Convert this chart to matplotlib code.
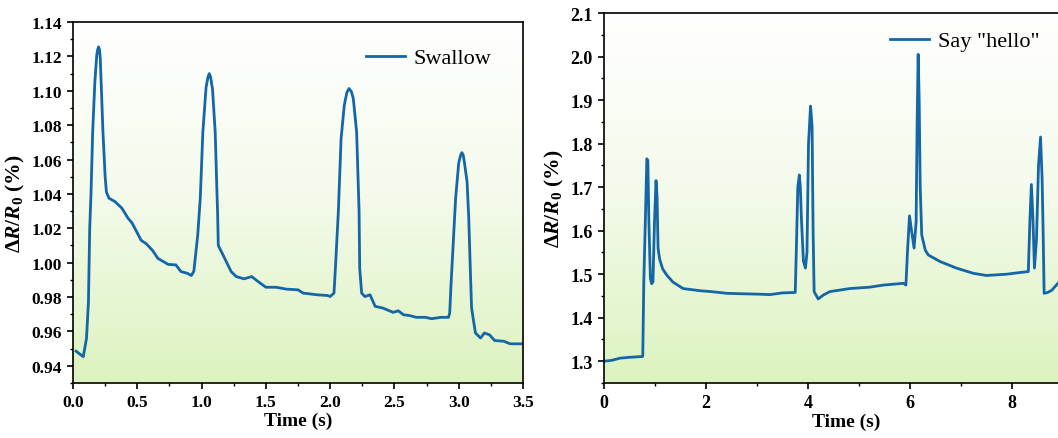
import numpy as np
import matplotlib
matplotlib.use("Agg")
import matplotlib.pyplot as plt
from matplotlib.colors import LinearSegmentedColormap
from matplotlib.ticker import MultipleLocator, FormatStrFormatter

plt.rcParams['font.family'] = ['Liberation Serif', 'DejaVu Serif']
plt.rcParams['mathtext.fontset'] = 'custom'
plt.rcParams['mathtext.rm'] = 'Liberation Serif:bold'
plt.rcParams['mathtext.it'] = 'Liberation Serif:italic:bold'
plt.rcParams['mathtext.bf'] = 'Liberation Serif:bold'

# swallow signal (time in s, dR/R0 in %)
swallow_t = [0.024, 0.05, 0.08, 0.105, 0.12, 0.13, 0.14, 0.153, 0.17, 0.185, 0.192, 0.199, 0.206,
             0.212, 0.233, 0.25, 0.26, 0.28, 0.327, 0.38, 0.427, 0.46, 0.53, 0.57, 0.62, 0.66,
             0.74, 0.80, 0.84, 0.89, 0.92, 0.94, 0.97, 0.99, 1.01, 1.035, 1.05, 1.06, 1.07, 1.085,
             1.106, 1.118, 1.125, 1.13, 1.17, 1.23, 1.27, 1.33, 1.39, 1.44, 1.50, 1.58,
             1.66, 1.75, 1.79, 1.90, 1.98, 2.00, 2.03, 2.045, 2.064, 2.085, 2.11, 2.13, 2.147,
             2.165, 2.18, 2.206, 2.225, 2.23, 2.245, 2.27, 2.31, 2.35, 2.41, 2.49, 2.53, 2.57,
             2.62, 2.67, 2.74, 2.79, 2.86, 2.92, 2.93, 2.94, 2.976, 3.0, 3.015, 3.025, 3.035, 3.045,
             3.065, 3.078, 3.09, 3.10, 3.13, 3.17, 3.20, 3.24, 3.28, 3.35, 3.40, 3.5]
swallow_v = [0.9485, 0.947, 0.9453, 0.956, 0.977, 1.02, 1.04, 1.076, 1.105, 1.121, 1.124, 1.1255, 1.124,
             1.119, 1.076, 1.05, 1.041, 1.0375, 1.0355, 1.0317, 1.026, 1.023, 1.013, 1.011, 1.007, 1.0025,
             0.999, 0.9987, 0.9948, 0.9938, 0.9925, 0.995, 1.016, 1.0375, 1.076, 1.102, 1.108, 1.11, 1.108, 1.101,
             1.076, 1.045, 1.028, 1.010, 1.004, 0.9948, 0.9919, 0.9906, 0.9919, 0.989, 0.9857, 0.9857,
             0.9846, 0.9842, 0.9823, 0.9813, 0.9809, 0.9803, 0.9823, 1.0025, 1.03, 1.072, 1.0916, 1.099, 1.1013,
             1.0995, 1.0955, 1.076, 1.03, 0.9967, 0.9823, 0.9803, 0.9813, 0.9746, 0.9736, 0.9711, 0.972, 0.9697,
             0.9692, 0.9682, 0.9682, 0.9674, 0.9682, 0.9682, 0.9707, 0.987, 1.0375, 1.058, 1.0625, 1.064, 1.0625, 1.058,
             1.047, 1.026, 0.9967, 0.9736, 0.9591, 0.9562, 0.9591, 0.958, 0.9547, 0.9543, 0.9528, 0.9528]

# say "hello" signal
hello_t = [0.00, 0.15, 0.31, 0.50, 0.76, 0.78, 0.81, 0.84, 0.86, 0.88, 0.91, 0.935, 0.96, 0.99,
           1.02, 1.04, 1.06, 1.09, 1.15, 1.23, 1.35, 1.55, 1.88, 2.10, 2.41, 2.70, 3.06, 3.25,
           3.50, 3.75, 3.77, 3.80, 3.83, 3.85, 3.87, 3.91, 3.95, 3.98, 4.01, 4.05, 4.08, 4.10,
           4.12, 4.20, 4.30, 4.43, 4.82, 5.20, 5.48, 5.87, 5.92, 5.95, 5.99, 6.03, 6.08, 6.12,
           6.14, 6.16, 6.18, 6.20, 6.23, 6.30, 6.36, 6.59, 6.91, 7.24, 7.50, 7.90, 8.10, 8.32,
           8.35, 8.38, 8.41, 8.44, 8.48, 8.52, 8.56, 8.59, 8.61, 8.63, 8.70, 8.78, 8.90, 9.00]
hello_v = [1.300, 1.302, 1.307, 1.309, 1.311, 1.48, 1.62, 1.765, 1.76, 1.62, 1.49, 1.478, 1.482, 1.62,
           1.715, 1.68, 1.56, 1.535, 1.512, 1.498, 1.482, 1.467, 1.462, 1.460, 1.456, 1.455, 1.454, 1.453,
           1.457, 1.458, 1.55, 1.70, 1.728, 1.70, 1.63, 1.53, 1.514, 1.55, 1.80, 1.886, 1.84, 1.60,
           1.46, 1.443, 1.452, 1.460, 1.467, 1.470, 1.475, 1.479, 1.475, 1.55, 1.634, 1.60, 1.56, 1.62,
           1.85, 2.005, 1.90, 1.70, 1.59, 1.555, 1.544, 1.529, 1.514, 1.502, 1.497, 1.500, 1.503, 1.506,
           1.62, 1.706, 1.63, 1.514, 1.58, 1.75, 1.815, 1.72, 1.60, 1.456, 1.458, 1.463, 1.479, 1.49]

line_color = '#1466a6'
bg = LinearSegmentedColormap.from_list('bg', ['#ffffff', '#f3faea', '#dcf3bf'])

W, H = 1058, 439
fig = plt.figure(figsize=(W / 100, H / 100), dpi=100)

ax1 = fig.add_axes([73 / W, 1 - 384 / H, 450 / W, 361 / H])
ax2 = fig.add_axes([604 / W, 1 - 384 / H, 9.5 * 51 / W, 370 / H])


def style(ax, xlim, ylim, xmaj, xmin, ymaj, ymin, tsize):
    # white at top fading to pale green at the bottom
    grad = np.linspace(0, 1, 256).reshape(-1, 1)
    ax.imshow(grad, cmap=bg, aspect='auto', origin='upper',
              extent=[xlim[0], xlim[1], ylim[0], ylim[1]], zorder=0)
    ax.set_xlim(xlim)
    ax.set_ylim(ylim)
    ax.xaxis.set_major_locator(MultipleLocator(xmaj))
    ax.xaxis.set_minor_locator(MultipleLocator(xmin))
    ax.yaxis.set_major_locator(MultipleLocator(ymaj))
    ax.yaxis.set_minor_locator(MultipleLocator(ymin))
    ax.tick_params(which='major', direction='out', length=4.5, width=1.2, labelsize=tsize)
    ax.tick_params(which='minor', direction='out', length=2.5, width=1.0)
    for s in ax.spines.values():
        s.set_linewidth(1.2)
    ax.set_xlabel('Time (s)', fontsize=14, fontweight='bold', labelpad=1)
    ax.set_ylabel(r'$\Delta R/R_0$ (%)', fontsize=15.5, fontweight='bold', labelpad=3)


style(ax1, (0, 3.5), (0.93, 1.14), 0.5, 0.25, 0.02, 0.01, 12.5)
ax1.xaxis.set_major_formatter(FormatStrFormatter('%.1f'))
ax1.yaxis.set_major_formatter(FormatStrFormatter('%.2f'))
ax1.plot(swallow_t, swallow_v, color=line_color, lw=2.0, label='Swallow', zorder=2)
ax1.legend(loc='center left', bbox_to_anchor=(366 / W, 1 - 59 / H), bbox_transform=fig.transFigure,
           frameon=False, fontsize=16, handlelength=1.75, handletextpad=0.4,
           borderpad=0, borderaxespad=0)

style(ax2, (0, 9.5), (1.25, 2.1), 2, 1, 0.1, 0.05, 13)
ax2.yaxis.set_major_formatter(FormatStrFormatter('%.1f'))
ax2.plot(hello_t, hello_v, color=line_color, lw=2.0, label='Say "hello"', zorder=2)
ax2.legend(loc='center left', bbox_to_anchor=(890 / W, 1 - 42 / H), bbox_transform=fig.transFigure,
           frameon=False, fontsize=16, handlelength=1.75, handletextpad=0.4,
           borderpad=0, borderaxespad=0)

for ax in (ax1, ax2):
    for lab in ax.get_xticklabels() + ax.get_yticklabels():
        lab.set_fontweight('bold')

fig.savefig('out.png', dpi=100)
